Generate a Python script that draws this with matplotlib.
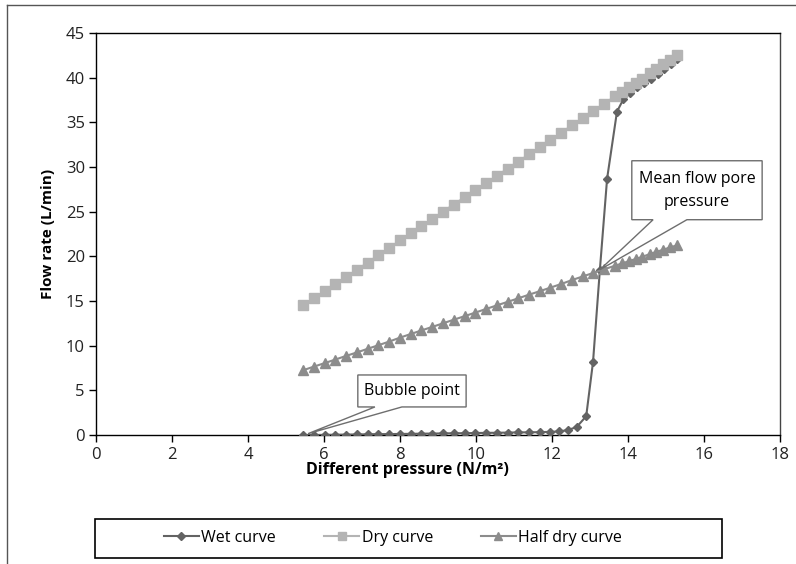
import matplotlib.pyplot as plt
from matplotlib.patches import Polygon
from matplotlib.lines import Line2D

plt.rcParams['font.family'] = ['Open Sans', 'DejaVu Sans']

# Wet curve (diamonds)
wet_x = [5.45, 5.73, 6.02, 6.30, 6.58, 6.87, 7.15, 7.43, 7.71, 8.00,
         8.28, 8.56, 8.85, 9.13, 9.41, 9.70, 9.98, 10.26, 10.54, 10.83,
         11.11, 11.39, 11.68, 11.96, 12.18, 12.42, 12.65, 12.90, 13.08, 13.26,
         13.45, 13.71, 13.88, 14.06, 14.24, 14.42, 14.60, 14.78, 14.96, 15.14, 15.30]
wet_y = [0.0, 0.0, 0.02, 0.03, 0.05, 0.06, 0.08, 0.10, 0.10, 0.12,
         0.13, 0.15, 0.16, 0.18, 0.20, 0.20, 0.22, 0.24, 0.25, 0.27,
         0.29, 0.30, 0.32, 0.35, 0.40, 0.55, 0.90, 2.1, 8.2, 18.5,
         28.7, 36.2, 37.6, 38.3, 38.9, 39.4, 39.9, 40.4, 41.0, 41.5, 42.1]

# Dry curve (squares)
dry_x = [5.45, 5.73, 6.02, 6.30, 6.58, 6.87, 7.15, 7.43, 7.71, 8.00,
         8.28, 8.56, 8.85, 9.13, 9.41, 9.70, 9.98, 10.26, 10.54, 10.83,
         11.11, 11.39, 11.68, 11.96, 12.24, 12.53, 12.81, 13.09, 13.37, 13.66,
         13.84, 14.02, 14.20, 14.38, 14.57, 14.75, 14.93, 15.11, 15.30]
dry_y = [14.5, 15.3, 16.1, 16.9, 17.7, 18.5, 19.3, 20.1, 20.9, 21.8,
         22.6, 23.4, 24.2, 25.0, 25.8, 26.6, 27.4, 28.2, 29.0, 29.8,
         30.6, 31.4, 32.2, 33.0, 33.8, 34.7, 35.5, 36.3, 37.1, 37.9,
         38.4, 38.9, 39.4, 39.9, 40.5, 41.0, 41.5, 42.0, 42.5]

# Half dry curve (triangles)
half_x = dry_x
half_y = [7.25, 7.65, 8.05, 8.45, 8.85, 9.25, 9.65, 10.05, 10.45, 10.9,
          11.3, 11.7, 12.1, 12.5, 12.9, 13.3, 13.7, 14.1, 14.5, 14.9,
          15.3, 15.7, 16.1, 16.5, 16.9, 17.35, 17.75, 18.15, 18.55, 18.95,
          19.2, 19.45, 19.7, 19.95, 20.25, 20.5, 20.75, 21.0, 21.25]

c_wet = "#636363"
c_dry = "#b4b4b4"
c_half = "#8c8c8c"

fig = plt.figure(figsize=(7.96, 5.64), dpi=100)
ax = fig.add_axes([96 / 796, 1 - 435 / 564, (780 - 96) / 796, (435 - 33) / 564])

ax.plot(wet_x, wet_y, color=c_wet, lw=1.5, marker="D", ms=4.5, mec=c_wet, label="Wet curve", zorder=3)
ax.plot(dry_x, dry_y, color=c_dry, lw=1.5, marker="s", ms=6.5, mec=c_dry, label="Dry curve", zorder=4)
ax.plot(half_x, half_y, color=c_half, lw=1.5, marker="^", ms=7, mec=c_half, label="Half dry curve", zorder=5)

ax.set_xlim(0, 18)
ax.set_ylim(0, 45)
ax.set_xticks(range(0, 19, 2))
ax.set_yticks(range(0, 46, 5))
ax.tick_params(direction="out", length=5, width=1, labelsize=12, color="black", labelcolor="#222222")
ax.tick_params(axis="y", pad=3)
for s in ax.spines.values():
    s.set_linewidth(1)
    s.set_color("black")
ax.spines["right"].set_color("#444444")

ax.set_xlabel("Different pressure (N/m²)", fontsize=11.5, fontweight="bold")
ax.xaxis.set_label_coords((407 - 96) / (780 - 96), -0.068)
ax.set_ylabel("Flow rate (L/min)", fontsize=11, fontweight="bold", labelpad=8)


def callout(x0, x1, y_bot, y_top, b0, b1, tip, text):
    pts = [(x0, y_top), (x1, y_top), (x1, y_bot), (b1, y_bot), tip, (b0, y_bot), (x0, y_bot)]
    ax.add_patch(Polygon(pts, closed=True, facecolor="white", edgecolor="#6e6e6e",
                         lw=1, zorder=6, clip_on=False))
    ax.text((x0 + x1) / 2, (y_bot + y_top) / 2, text, ha="center", va="center",
            fontsize=11.5, zorder=7, linespacing=1.6)


callout(6.89, 9.74, 3.14, 6.72, 7.34, 8.05, (5.58, 0.15), "Bubble point")
callout(14.1, 17.53, 24.1, 30.7, 14.66, 15.55, (wet_x[29], wet_y[29]), "Mean flow pore\npressure")

# legend box in figure coords
fig.patches.append(plt.Rectangle((95 / 796, 1 - 558 / 564), (722 - 95) / 796, 39 / 564,
                                 transform=fig.transFigure, fill=False, ec="black", lw=1.2))
h, l = ax.get_legend_handles_labels()
fig.legend(h, l, loc="center", ncol=3,
           bbox_to_anchor=(393 / 796, 1 - 538 / 564), frameon=False, fontsize=11.5,
           handlelength=2.2, handletextpad=0.15, columnspacing=3.0, markerscale=0.8)

# outer chart frame
fig.add_artist(Line2D([7 / 796, 7 / 796], [0, 1 - 5 / 564], transform=fig.transFigure, color="#555555", lw=1))
fig.add_artist(Line2D([7 / 796, 1], [1 - 5 / 564, 1 - 5 / 564], transform=fig.transFigure, color="#555555", lw=1))

fig.savefig("out.png", dpi=100)
